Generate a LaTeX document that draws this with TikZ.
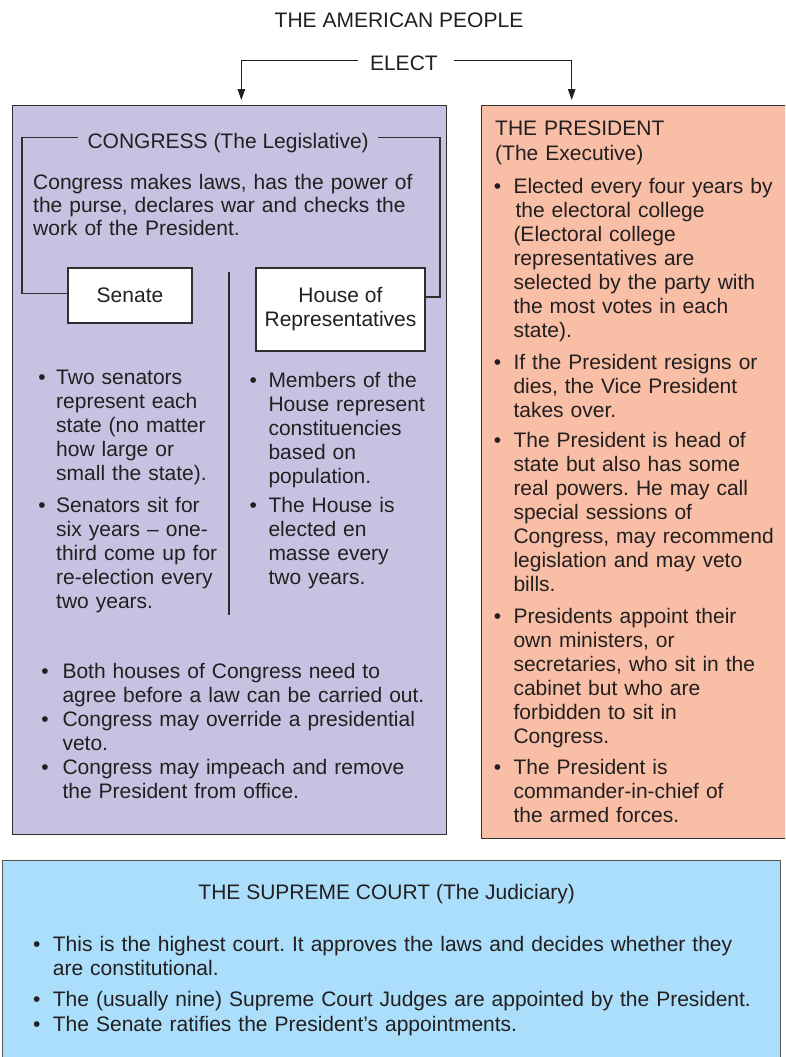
\documentclass[tikz,border=0pt]{standalone}
\usepackage{fontspec}
\setmainfont{Liberation Sans}
\usetikzlibrary{arrows.meta}

\definecolor{ink}{HTML}{231F20}
\definecolor{lavender}{RGB}{198,195,226}
\definecolor{salmon}{RGB}{248,190,166}
\definecolor{skyblue}{RGB}{170,222,250}
\definecolor{frame}{HTML}{2E2E2E}
\definecolor{courtframe}{HTML}{555555}

\newcommand\bodyfont{\fontsize{21}{24}\selectfont}
\frenchspacing

\tikzset{
  panel/.style={draw=frame, line width=1.3pt, inner sep=0pt, anchor=north west},
  namebox/.style={draw=frame, line width=1.2pt, fill=white, inner sep=0pt,
    align=center, font=\bodyfont, text=ink},
  plain/.style={inner sep=0pt, font=\bodyfont, text=ink},
  para/.style={plain, anchor=base west, text width=730pt, align=left},
  bulletdot/.style={plain, anchor=base},
  bracket/.style={draw=frame, line width=1.2pt},
  electarrow/.style={draw=ink, line width=1pt,
    -{Triangle[length=11pt,width=7.5pt]}, shorten >=5pt}
}

% one bullet: name, dot x, text x, first baseline, lines
\newcommand\bitem[5]{%
  \node[bulletdot] (#1-dot) at (#2,#4) {\textbullet};
  \node[para] (#1) at (#3,#4) {#5};}

\begin{document}
\begin{tikzpicture}[x=1pt, y=-1pt]
  \useasboundingbox (0,0) rectangle (785,1057);
  \clip (0,0) rectangle (785,1057);
  \fill[white] (0,0) rectangle (785,1057);

  % the three branches
  \node[panel, fill=lavender, minimum width=434pt, minimum height=729pt] (cong) at (12,105) {};
  \node[panel, fill=salmon, minimum width=330pt, minimum height=733pt] (pres) at (480.7,105) {};
  \node[panel, fill=skyblue, draw=courtframe, minimum width=778.3pt, minimum height=230pt] (court) at (1.7,860) {};

  % the people elect
  \node[plain, anchor=base] (people) at (399,27.5) {THE AMERICAN PEOPLE};
  \node[plain, anchor=base] (elect) at (403.9,70.5) {ELECT};
  \coordinate (eL) at (358,61);
  \coordinate (eR) at (454,61);
  \draw[electarrow] (eL) -| ([xshift=11.7pt]cong.north);
  \draw[electarrow] (eR) -| ([xshift=91pt]pres.north west);

  % Congress
  \node[plain, anchor=base west] (cglabel) at (87.3,148.3) {CONGRESS (The Legislative)};
  \node[para, font={\fontsize{21}{23}\selectfont}] (cgtext) at (33,189)
    {Congress makes laws, has the power of\\the purse, declares war and checks the\\work of the President.};
  \node[namebox, minimum width=124pt, minimum height=55pt] (senate) at (130,295.5) {Senate};
  \node[namebox, minimum width=169pt, minimum height=83pt] (house) at (340.5,309.5) {House of\\Representatives};
  \coordinate (cgL) at (78,137.5);
  \coordinate (cgR) at (378,137.5);
  \draw[bracket] (cgL) -| (22,293.5) -- (senate.west |- 0,293.5);
  \draw[bracket] (cgR) -| (440,297) -- (house.east |- 0,297);
  \draw[bracket] (229,272) -- (229,615);

  \bitem{sen1}{42}{56}{384.3}{Two senators\\represent each\\state (no matter\\how large or\\small the state).}
  \bitem{sen2}{42}{56}{512.7}{Senators sit for\\six years – one-\\third come up for\\re-election every\\two years.}
  \bitem{hou1}{253.3}{268.3}{387.5}{Members of the\\House represent\\constituencies\\based on\\population.}
  \bitem{hou2}{253.3}{268.3}{512.7}{The House is\\elected en\\masse every\\two years.}

  \bitem{cg1}{45}{62.3}{678.3}{Both houses of Congress need to\\agree before a law can be carried out.}
  \bitem{cg2}{45}{62.3}{726}{Congress may override a presidential\\veto.}
  \bitem{cg3}{45}{62.3}{774}{Congress may impeach and remove\\the President from office.}

  % President
  \node[para, font={\fontsize{21}{25.5}\selectfont}] (prtitle) at (495,135) {THE PRESIDENT\\(The Executive)};
  \bitem{pr1}{497.5}{513.3}{193.3}{Elected every four years by\\\hspace*{2pt}the electoral college\\(Electoral college\\representatives are\\selected by the party with\\the most votes in each\\state).}
  \bitem{pr2}{497.5}{513.3}{369.5}{If the President resigns or\\dies, the Vice President\\takes over.}
  \bitem{pr3}{497.5}{513.3}{447.7}{The President is head of\\state but also has some\\real powers. He may call\\special sessions of\\Congress, may recommend\\legislation and may veto\\bills.}
  \bitem{pr4}{497.5}{513.3}{623}{Presidents appoint their\\own ministers, or\\secretaries, who sit in the\\cabinet but who are\\forbidden to sit in\\Congress.}
  \bitem{pr5}{497.5}{513.3}{774.5}{The President is\\commander-in-chief of\\the armed forces.}

  % Supreme Court
  \node[plain, anchor=base] (sctitle) at (386.7,899.3) {THE SUPREME COURT (The Judiciary)};
  \bitem{sc1}{36.7}{52.7}{951}{This is the highest court. It approves the laws and decides whether they\\are constitutional.}
  \bitem{sc2}{36.7}{52.7}{1006.7}{The (usually nine) Supreme Court Judges are appointed by the President.}
  \bitem{sc3}{36.7}{52.7}{1031}{The Senate ratifies the President’s appointments.}
\end{tikzpicture}
\end{document}
